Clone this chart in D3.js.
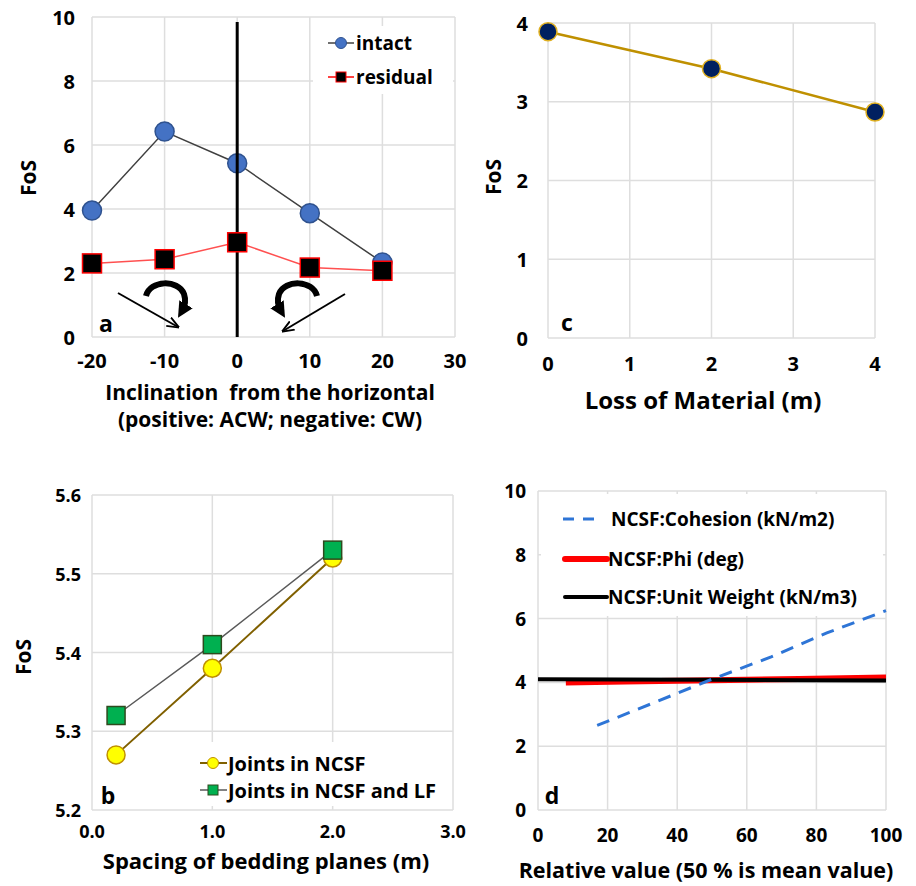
<!DOCTYPE html>
<html>
<head>
    <meta charset="utf-8" />
    <title>FoS panels</title>
    <script src="https://d3js.org/d3.v7.min.js"></script>
    <style>
      body { margin: 0; background: #fff; }
      text { font-family: 'Open Sans', 'Noto Sans', sans-serif; font-weight: 700; fill: #000; }
    </style>
</head>
<body>
<svg id="chart" width="916" height="886"></svg>
<script>
    // panel a - inclination
    var aInclination = [-20, -10, 0, 10, 20];
    var aIntact = [3.95, 6.42, 5.43, 3.87, 2.33];
    var aResidual = [2.3, 2.43, 2.96, 2.17, 2.07];
    var aXTicks = [-20, -10, 0, 10, 20, 30];
    var aYTicks = [0, 2, 4, 6, 8, 10];

    // panel c - loss of material
    var cLoss = [0, 2, 4];
    var cFoS = [3.89, 3.42, 2.87];
    var cXTicks = [0, 1, 2, 3, 4];
    var cYTicks = [0, 1, 2, 3, 4];

    // panel b - bedding spacing
    var bSpacing = [0.2, 1.0, 2.0];
    var bNCSF = [5.27, 5.38, 5.52];
    var bNCSFLF = [5.32, 5.41, 5.53];
    var bXTicks = [0, 1, 2, 3];
    var bYTicks = [5.2, 5.3, 5.4, 5.5, 5.6];

    // panel d - relative value
    var dCohesionX = [17, 33, 50, 67, 83, 100];
    var dCohesion = [2.65, 3.35, 4.1, 4.8, 5.55, 6.25];
    var dPhiX = [8, 25, 50, 75, 100];
    var dPhi = [4.0, 4.03, 4.07, 4.11, 4.15];
    var dUnitX = [0, 25, 50, 75, 100];
    var dUnit = [4.1, 4.09, 4.08, 4.07, 4.06];
    var dXTicks = [0, 20, 40, 60, 80, 100];
    var dYTicks = [0, 2, 4, 6, 8, 10];

    var svg = d3.select("#chart");
    var gridColor = "#dedede";
    var intFmt = function(d){ return String(d); };   // plain hyphen minus, like the original
    var oneDec = function(d){ return d.toFixed(1); };

    function zip(xs, ys) {
        return xs.map(function(x, i){ return [x, ys[i]]; });
    }

    // grid, ticks and titles for one panel
    function panel(opt) {
        var x = d3.scaleLinear().domain(opt.xDomain).range([opt.left, opt.right]);
        var y = d3.scaleLinear().domain(opt.yDomain).range([opt.bottom, opt.top]);
        var g = svg.append("g");

        g.selectAll(".vg").data(opt.xTicks).enter().append("line")
            .attr("x1", function(d){ return x(d); })
            .attr("x2", function(d){ return x(d); })
            .attr("y1", opt.top).attr("y2", opt.bottom)
            .attr("stroke", gridColor).attr("stroke-width", 1.5);
        g.selectAll(".hg").data(opt.yTicks).enter().append("line")
            .attr("y1", function(d){ return y(d); })
            .attr("y2", function(d){ return y(d); })
            .attr("x1", opt.left).attr("x2", opt.right)
            .attr("stroke", gridColor).attr("stroke-width", 1.5);

        g.selectAll(".xt").data(opt.xTicks).enter().append("text")
            .attr("x", function(d){ return x(d); })
            .attr("y", opt.xTickY)
            .attr("text-anchor", "middle")
            .attr("dominant-baseline", "central")
            .style("font-size", opt.tickSize + "px")
            .text(opt.xFormat);
        g.selectAll(".yt").data(opt.yTicks).enter().append("text")
            .attr("x", opt.yTickX)
            .attr("y", function(d){ return y(d); })
            .attr("text-anchor", "end")
            .attr("dominant-baseline", "central")
            .style("font-size", opt.tickSize + "px")
            .text(opt.yFormat);

        opt.xTitle.forEach(function(t, i){
            g.append("text")
                .attr("x", opt.xTitleX)
                .attr("y", opt.xTitleY + i * 27)
                .attr("text-anchor", "middle")
                .attr("dominant-baseline", "central")
                .style("font-size", opt.titleSize + "px")
                .text(t);
        });
        if (opt.yTitle) {
            g.append("text")
                .attr("transform", "translate(" + opt.yTitleX + "," + opt.yTitleY + ") rotate(-90)")
                .attr("text-anchor", "middle")
                .attr("dominant-baseline", "central")
                .style("font-size", "21px")
                .text(opt.yTitle);
        }
        return {x: x, y: y, g: g};
    }

    function legendBox(x0, y0, w, h) {
        svg.append("rect").attr("x", x0).attr("y", y0).attr("width", w).attr("height", h)
            .attr("fill", "#fff");
    }

    function letter(t, x0, y0) {
        svg.append("text").attr("x", x0).attr("y", y0)
            .attr("text-anchor", "middle").attr("dominant-baseline", "central")
            .style("font-size", "23px").text(t);
    }

    // ---------------- panel a ----------------
    var pa = panel({
        left: 92, right: 455, top: 17, bottom: 337,
        xDomain: [-20, 30], yDomain: [0, 10],
        xTicks: aXTicks, yTicks: aYTicks,
        xTickY: 360, yTickX: 75, tickSize: 20, titleSize: 21,
        xFormat: intFmt, yFormat: intFmt,
        xTitle: ["Inclination\u00a0\u00a0from the horizontal", "(positive: ACW; negative: CW)"],
        xTitleX: 270, xTitleY: 392,
        yTitle: "FoS", yTitleX: 28, yTitleY: 178
    });
    legendBox(313, 26, 140, 68);

    var lineA = d3.line().x(function(d){ return pa.x(d[0]); }).y(function(d){ return pa.y(d[1]); });

    svg.append("path").datum(zip(aInclination, aIntact))
        .attr("d", lineA).attr("fill", "none").attr("stroke", "#404040").attr("stroke-width", 1.5);
    svg.selectAll(".intact").data(zip(aInclination, aIntact)).enter().append("circle")
        .attr("cx", function(d){ return pa.x(d[0]); })
        .attr("cy", function(d){ return pa.y(d[1]); })
        .attr("r", 9.5)
        .attr("fill", "#4472C4").attr("stroke", "#2F528F").attr("stroke-width", 1.5);

    // vertical reference line at 0
    svg.append("line")
        .attr("x1", pa.x(0)).attr("x2", pa.x(0))
        .attr("y1", 22).attr("y2", pa.y(0))
        .attr("stroke", "#000").attr("stroke-width", 3);

    svg.append("path").datum(zip(aInclination, aResidual))
        .attr("d", lineA).attr("fill", "none").attr("stroke", "#FF5050").attr("stroke-width", 1.5);
    svg.selectAll(".resid").data(zip(aInclination, aResidual)).enter().append("rect")
        .attr("x", function(d){ return pa.x(d[0]) - 9.5; })
        .attr("y", function(d){ return pa.y(d[1]) - 9.5; })
        .attr("width", 19).attr("height", 19)
        .attr("fill", "#000").attr("stroke", "#FF0000").attr("stroke-width", 1.5);

    // legend a
    svg.append("line").attr("x1", 328).attr("x2", 354).attr("y1", 43).attr("y2", 43)
        .attr("stroke", "#404040").attr("stroke-width", 1.5);
    svg.append("circle").attr("cx", 341).attr("cy", 43).attr("r", 5.5)
        .attr("fill", "#4472C4").attr("stroke", "#2F528F");
    svg.append("text").attr("x", 356).attr("y", 43).attr("dominant-baseline", "central")
        .style("font-size", "19px").text("intact");
    svg.append("line").attr("x1", 328).attr("x2", 354).attr("y1", 77).attr("y2", 77)
        .attr("stroke", "#FF0000").attr("stroke-width", 1.5);
    svg.append("rect").attr("x", 336).attr("y", 72).attr("width", 10).attr("height", 10)
        .attr("fill", "#000").attr("stroke", "#FF0000");
    svg.append("text").attr("x", 356).attr("y", 77).attr("dominant-baseline", "central")
        .style("font-size", "19px").text("residual");

    // rotation arrows
    var defs = svg.append("defs");
    defs.append("marker").attr("id", "thin").attr("viewBox", "0 0 10 10")
        .attr("refX", 9).attr("refY", 5).attr("markerWidth", 6).attr("markerHeight", 6)
        .attr("orient", "auto")
        .append("path").attr("d", "M0,1 L10,5 L0,9").attr("fill", "none").attr("stroke", "#000").attr("stroke-width", 1.6);
    defs.append("marker").attr("id", "thick").attr("viewBox", "0 0 10 10")
        .attr("refX", 5).attr("refY", 5).attr("markerWidth", 2.6).attr("markerHeight", 2.6)
        .attr("orient", "auto")
        .append("path").attr("d", "M0,0 L10,5 L0,10 Z").attr("fill", "#000");

    svg.append("line").attr("x1", 118).attr("y1", 293).attr("x2", 178).attr("y2", 327)
        .attr("stroke", "#000").attr("stroke-width", 2).attr("marker-end", "url(#thin)");
    svg.append("line").attr("x1", 345).attr("y1", 294).attr("x2", 283).attr("y2", 331)
        .attr("stroke", "#000").attr("stroke-width", 2).attr("marker-end", "url(#thin)");
    svg.append("path").attr("d", "M146,296 C150,280 178,279 184,294 C186,300 185,306 182,311")
        .attr("fill", "none").attr("stroke", "#000").attr("stroke-width", 6)
        .attr("marker-end", "url(#thick)");
    svg.append("path").attr("d", "M317,296 C313,280 285,279 279,294 C277,300 278,306 281,311")
        .attr("fill", "none").attr("stroke", "#000").attr("stroke-width", 6)
        .attr("marker-end", "url(#thick)");

    letter("a", 106, 323);

    // ---------------- panel c ----------------
    var pc = panel({
        left: 548, right: 875, top: 23, bottom: 338,
        xDomain: [0, 4], yDomain: [0, 4],
        xTicks: cXTicks, yTicks: cYTicks,
        xTickY: 363, yTickX: 528, tickSize: 20, titleSize: 24,
        xFormat: intFmt, yFormat: intFmt,
        xTitle: ["Loss of Material (m)"],
        xTitleX: 703, xTitleY: 399,
        yTitle: "FoS", yTitleX: 493, yTitleY: 177
    });
    var lineC = d3.line().x(function(d){ return pc.x(d[0]); }).y(function(d){ return pc.y(d[1]); });
    svg.append("path").datum(zip(cLoss, cFoS))
        .attr("d", lineC).attr("fill", "none").attr("stroke", "#BF9000").attr("stroke-width", 2.5);
    svg.selectAll(".cpt").data(zip(cLoss, cFoS)).enter().append("circle")
        .attr("cx", function(d){ return pc.x(d[0]); })
        .attr("cy", function(d){ return pc.y(d[1]); })
        .attr("r", 9)
        .attr("fill", "#002060").attr("stroke", "#E0B020").attr("stroke-width", 1.5);
    letter("c", 567, 322);

    // ---------------- panel b ----------------
    var pb = panel({
        left: 92, right: 453, top: 495, bottom: 810,
        xDomain: [0, 3], yDomain: [5.2, 5.6],
        xTicks: bXTicks, yTicks: bYTicks,
        xTickY: 831, yTickX: 81, tickSize: 18, titleSize: 22,
        xFormat: oneDec, yFormat: oneDec,
        xTitle: ["Spacing of bedding planes (m)"],
        xTitleX: 266, xTitleY: 860,
        yTitle: "FoS", yTitleX: 23, yTitleY: 657
    });
    legendBox(196, 742, 255, 64);
    var lineB = d3.line().x(function(d){ return pb.x(d[0]); }).y(function(d){ return pb.y(d[1]); });
    svg.append("path").datum(zip(bSpacing, bNCSF))
        .attr("d", lineB).attr("fill", "none").attr("stroke", "#806000").attr("stroke-width", 2);
    svg.selectAll(".bpt").data(zip(bSpacing, bNCSF)).enter().append("circle")
        .attr("cx", function(d){ return pb.x(d[0]); })
        .attr("cy", function(d){ return pb.y(d[1]); })
        .attr("r", 9)
        .attr("fill", "#FFFF00").attr("stroke", "#BF9000").attr("stroke-width", 1.5);
    svg.append("path").datum(zip(bSpacing, bNCSFLF))
        .attr("d", lineB).attr("fill", "none").attr("stroke", "#595959").attr("stroke-width", 1.5);
    svg.selectAll(".bsq").data(zip(bSpacing, bNCSFLF)).enter().append("rect")
        .attr("x", function(d){ return pb.x(d[0]) - 9; })
        .attr("y", function(d){ return pb.y(d[1]) - 9; })
        .attr("width", 18).attr("height", 18)
        .attr("fill", "#00B050").attr("stroke", "#2E4A1E").attr("stroke-width", 1.5);

    // legend b
    svg.append("line").attr("x1", 200).attr("x2", 227).attr("y1", 763).attr("y2", 763)
        .attr("stroke", "#806000").attr("stroke-width", 2);
    svg.append("circle").attr("cx", 213).attr("cy", 763).attr("r", 5.5)
        .attr("fill", "#FFFF00").attr("stroke", "#BF9000");
    svg.append("text").attr("x", 228).attr("y", 763).attr("dominant-baseline", "central")
        .style("font-size", "20px").text("Joints in NCSF");
    svg.append("line").attr("x1", 200).attr("x2", 227).attr("y1", 790).attr("y2", 790)
        .attr("stroke", "#595959").attr("stroke-width", 1.5);
    svg.append("rect").attr("x", 208).attr("y", 785).attr("width", 10).attr("height", 10)
        .attr("fill", "#00B050").attr("stroke", "#2E4A1E");
    svg.append("text").attr("x", 228).attr("y", 790).attr("dominant-baseline", "central")
        .style("font-size", "20px").text("Joints in NCSF and LF");
    letter("b", 108, 795);

    // ---------------- panel d ----------------
    var pd = panel({
        left: 538, right: 886, top: 491, bottom: 810,
        xDomain: [0, 100], yDomain: [0, 10],
        xTicks: dXTicks, yTicks: dYTicks,
        xTickY: 835, yTickX: 526, tickSize: 19, titleSize: 21.5,
        xFormat: intFmt, yFormat: intFmt,
        xTitle: ["Relative value (50 % is mean value)"],
        xTitleX: 706, xTitleY: 869,
        yTitle: null
    });
    legendBox(541, 494, 342, 122);
    var lineD = d3.line().x(function(d){ return pd.x(d[0]); }).y(function(d){ return pd.y(d[1]); });
    svg.append("path").datum(zip(dPhiX, dPhi))
        .attr("d", lineD).attr("fill", "none").attr("stroke", "#FF0000").attr("stroke-width", 6);
    svg.append("path").datum(zip(dUnitX, dUnit))
        .attr("d", lineD).attr("fill", "none").attr("stroke", "#000").attr("stroke-width", 4);
    svg.append("path").datum(zip(dCohesionX, dCohesion))
        .attr("d", lineD).attr("fill", "none").attr("stroke", "#2E75D6").attr("stroke-width", 3)
        .attr("stroke-dasharray", "13,9");

    // legend d
    svg.append("line").attr("x1", 563).attr("x2", 598).attr("y1", 519).attr("y2", 519)
        .attr("stroke", "#2E75D6").attr("stroke-width", 3).attr("stroke-dasharray", "11,9");
    svg.append("text").attr("x", 611).attr("y", 519).attr("dominant-baseline", "central")
        .style("font-size", "19px").text("NCSF:Cohesion (kN/m2)");
    svg.append("line").attr("x1", 565).attr("x2", 607).attr("y1", 559).attr("y2", 559)
        .attr("stroke", "#FF0000").attr("stroke-width", 6).attr("stroke-linecap", "round");
    svg.append("text").attr("x", 608).attr("y", 559).attr("dominant-baseline", "central")
        .style("font-size", "19px").text("NCSF:Phi (deg)");
    svg.append("line").attr("x1", 565).attr("x2", 607).attr("y1", 597).attr("y2", 597)
        .attr("stroke", "#000").attr("stroke-width", 4).attr("stroke-linecap", "round");
    svg.append("text").attr("x", 608).attr("y", 597).attr("dominant-baseline", "central")
        .style("font-size", "19px").text("NCSF:Unit Weight (kN/m3)");
    letter("d", 552, 795);
</script>
</body>
</html>
